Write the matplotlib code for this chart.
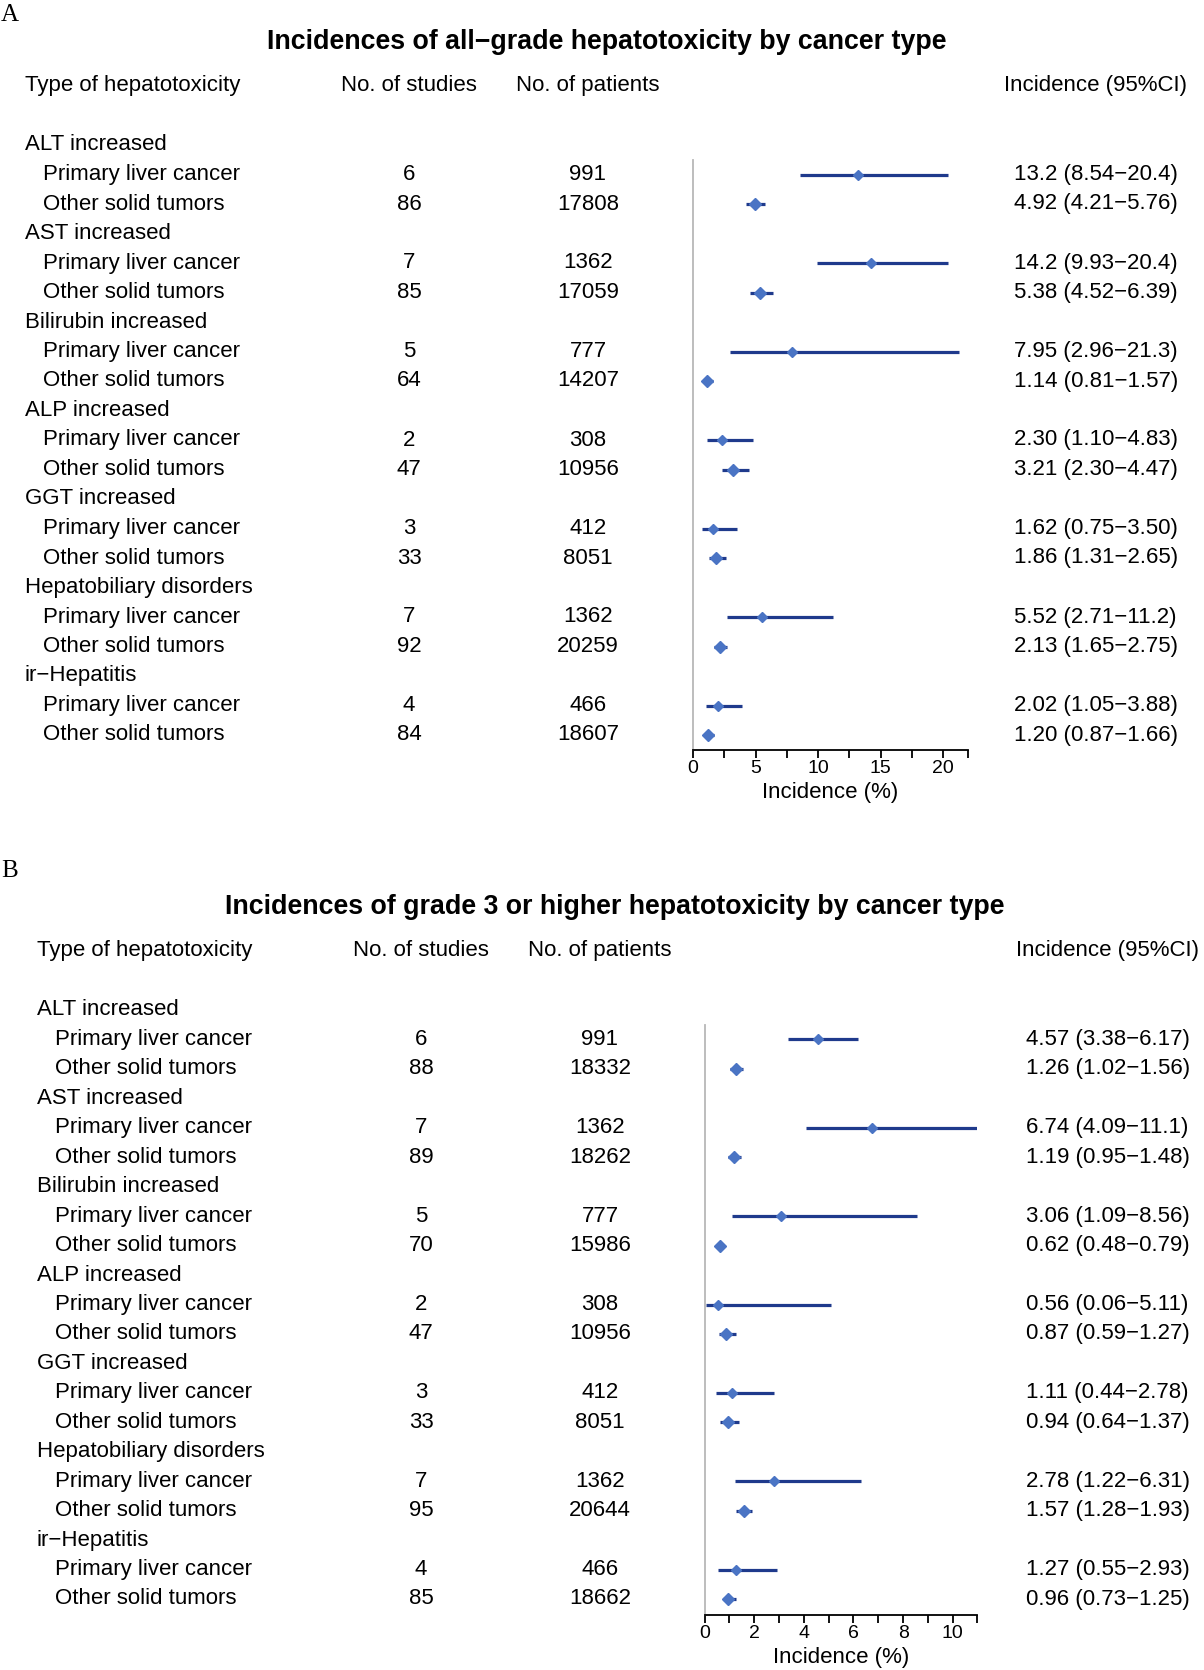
import matplotlib
matplotlib.use("Agg")
import matplotlib.pyplot as plt
import matplotlib.transforms as mtransforms

plt.rcParams['font.family'] = ['Liberation Sans', 'DejaVu Sans']

# ---- data ----
groups = ["ALT increased", "AST increased", "Bilirubin increased", "ALP increased",
          "GGT increased", "Hepatobiliary disorders", "ir\u2212Hepatitis"]
sub_labels = ["Primary liver cancer", "Other solid tumors"]

# panel A: all-grade
studies_liver_a = [6, 7, 5, 2, 3, 7, 4]
patients_liver_a = [991, 1362, 777, 308, 412, 1362, 466]
studies_other_a = [86, 85, 64, 47, 33, 92, 84]
patients_other_a = [17808, 17059, 14207, 10956, 8051, 20259, 18607]
inc_liver_a = [13.2, 14.2, 7.95, 2.30, 1.62, 5.52, 2.02]
lo_liver_a = [8.54, 9.93, 2.96, 1.10, 0.75, 2.71, 1.05]
hi_liver_a = [20.4, 20.4, 21.3, 4.83, 3.50, 11.2, 3.88]
inc_other_a = [4.92, 5.38, 1.14, 3.21, 1.86, 2.13, 1.20]
lo_other_a = [4.21, 4.52, 0.81, 2.30, 1.31, 1.65, 0.87]
hi_other_a = [5.76, 6.39, 1.57, 4.47, 2.65, 2.75, 1.66]

# panel B: grade >= 3
studies_liver_b = [6, 7, 5, 2, 3, 7, 4]
patients_liver_b = [991, 1362, 777, 308, 412, 1362, 466]
studies_other_b = [88, 89, 70, 47, 33, 95, 85]
patients_other_b = [18332, 18262, 15986, 10956, 8051, 20644, 18662]
inc_liver_b = [4.57, 6.74, 3.06, 0.56, 1.11, 2.78, 1.27]
lo_liver_b = [3.38, 4.09, 1.09, 0.06, 0.44, 1.22, 0.55]
hi_liver_b = [6.17, 11.1, 8.56, 5.11, 2.78, 6.31, 2.93]
inc_other_b = [1.26, 1.19, 0.62, 0.87, 0.94, 1.57, 0.96]
lo_other_b = [1.02, 0.95, 0.48, 0.59, 0.64, 1.28, 0.73]
hi_other_b = [1.56, 1.48, 0.79, 1.27, 1.37, 1.93, 1.25]

title_a = "Incidences of all\u2212grade hepatotoxicity by cancer type"
title_b = "Incidences of grade 3 or higher hepatotoxicity by cancer type"

W, H = 1204, 1670
fig = plt.figure(figsize=(W / 100, H / 100), dpi=100)

LINE_C = '#1f3a8c'
MARK_C = '#4a74c4'
FS = 16


def fmt(v):
    return f"{v:.1f}" if v >= 10 else f"{v:.2f}"


def ci_text(m, lo, hi):
    return f"{fmt(m)} ({fmt(lo)}\u2212{fmt(hi)})"


def panel(x0, x1, y_first, row_h, y_axis, xmax, major, minor, dx,
          studies_l, patients_l, studies_o, patients_o,
          inc_l, lo_l, hi_l, inc_o, lo_o, hi_o):
    # axes placed in pixels; y data = row index (0 = first group label)
    y_top = y_first + row_h * 0.5
    ybot_row = (y_axis - y_first) / row_h
    ax = fig.add_axes([x0 / W, 1 - y_axis / H, (x1 - x0) / W, (y_axis - y_top) / H])
    ax.set_xlim(0, xmax)
    ax.set_ylim(ybot_row, 0.5)
    for s in ['top', 'right']:
        ax.spines[s].set_visible(False)
    ax.spines['left'].set_color('#b8b8b8')
    ax.spines['left'].set_linewidth(1.3)
    ax.spines['bottom'].set_linewidth(1.3)
    ax.set_yticks([])
    ax.set_xticks(major)
    ax.set_xticks(minor, minor=True)
    ax.tick_params(axis='x', which='both', length=6, width=1.3, labelsize=14, pad=1)
    ax.set_xlabel("Incidence (%)", fontsize=FS, labelpad=4)
    ax.patch.set_alpha(0)

    tr = mtransforms.blended_transform_factory(fig.transFigure, ax.transData)
    # header
    hy = -2.03
    ax.text((25 + dx) / W, hy, "Type of hepatotoxicity", transform=tr, fontsize=FS, va='center', ha='left')
    ax.text((409 + dx) / W, hy, "No. of studies", transform=tr, fontsize=FS, va='center', ha='center')
    ax.text((588 + dx) / W, hy, "No. of patients", transform=tr, fontsize=FS, va='center', ha='center')
    ax.text((1004 + dx) / W, hy, "Incidence (95%CI)", transform=tr, fontsize=FS, va='center', ha='left')

    for g, name in enumerate(groups):
        r0 = 3 * g
        ax.text((25 + dx) / W, r0, name, transform=tr, fontsize=FS, va='center', ha='left')
        rows = [(r0 + 1, studies_l[g], patients_l[g], inc_l[g], lo_l[g], hi_l[g], 5.5),
                (r0 + 2, studies_o[g], patients_o[g], inc_o[g], lo_o[g], hi_o[g], 6)]
        for k, (r, st, pt, m, lo, hi, ms) in enumerate(rows):
            ax.text((43 + dx) / W, r, sub_labels[k], transform=tr, fontsize=FS, va='center', ha='left')
            ax.text((409 + dx) / W, r, str(st), transform=tr, fontsize=FS, va='center', ha='center')
            ax.text((588 + dx) / W, r, str(pt), transform=tr, fontsize=FS, va='center', ha='center')
            ax.text((1014 + dx) / W, r, ci_text(m, lo, hi), transform=tr, fontsize=FS, va='center', ha='left')
            ax.hlines(r, lo, hi, color=LINE_C, lw=2.3)
            ax.plot([m], [r], marker='D', ms=ms, color=MARK_C, mec=MARK_C, clip_on=False)
    return ax


panel(693, 968, 145, 29.5, 750, 22, [0, 5, 10, 15, 20], [2.5, 7.5, 12.5, 17.5, 22], 0,
      studies_liver_a, patients_liver_a, studies_other_a, patients_other_a,
      inc_liver_a, lo_liver_a, hi_liver_a, inc_other_a, lo_other_a, hi_other_a)
panel(704.6, 977.5, 1010, 29.45, 1615, 11, [0, 2, 4, 6, 8, 10], [1, 3, 5, 7, 9, 11], 12,
      studies_liver_b, patients_liver_b, studies_other_b, patients_other_b,
      inc_liver_b, lo_liver_b, hi_liver_b, inc_other_b, lo_other_b, hi_other_b)

fig.text(607 / W, 1 - 42 / H, title_a, fontsize=19.3, fontweight='bold', ha='center', va='center')
fig.text(615 / W, 1 - 907 / H, title_b, fontsize=19.3, fontweight='bold', ha='center', va='center')
fig.text(1 / W, 1 - 4 / H, "A", fontsize=18, family='Liberation Serif', ha='left', va='top')
fig.text(1 / W, 1 - 860 / H, "B", fontsize=18, family='Liberation Serif', ha='left', va='top')

fig.savefig("out.png", dpi=100)
